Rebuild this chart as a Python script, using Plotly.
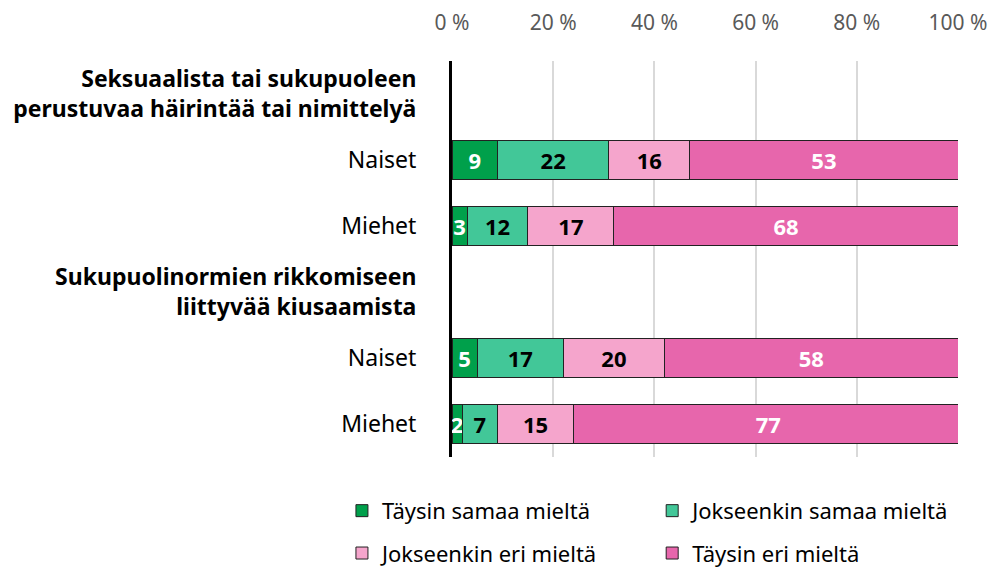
import plotly.graph_objects as go

row_labels = [
    "<b>Seksuaalista tai sukupuoleen<br>perustuvaa häirintää tai nimittelyä</b>",
    "Naiset",
    "Miehet",
    "<b>Sukupuolinormien rikkomiseen<br>liittyvää kiusaamista</b>",
    "Naiset",
    "Miehet",
]
bar_rows = [1, 2, 4, 5]
series_names = ["Täysin samaa mieltä", "Jokseenkin samaa mieltä",
                "Jokseenkin eri mieltä", "Täysin eri mieltä"]
taysin_samaa = [9, 3, 5, 2]
jokseenkin_samaa = [22, 12, 17, 7]
jokseenkin_eri = [16, 17, 20, 15]
taysin_eri = [53, 68, 58, 77]
x_ticks = [0, 20, 40, 60, 80, 100]
x_tick_labels = ["0 %", "20 %", "40 %", "60 %", "80 %", "100 %"]

colors = ["#00A04B", "#42C798", "#F5A5CC", "#E766AC"]
text_colors = ["white", "black", "black", "white"]
values = [taysin_samaa, jokseenkin_samaa, jokseenkin_eri, taysin_eri]
legend_ids = ["legend", "legend2", "legend3", "legend4"]

FONT = "Noto Sans"

fig = go.Figure()
for name, vals, c, tc, lg in zip(series_names, values, colors, text_colors, legend_ids):
    fig.add_trace(go.Bar(
        x=vals, y=bar_rows, orientation="h", name=name,
        marker=dict(color=c, line=dict(color="#222222", width=1)),
        text=[str(v) for v in vals], textposition="inside",
        insidetextanchor="middle", textangle=0,
        textfont=dict(family=FONT, size=22, color=tc, weight="bold"),
        legend=lg, showlegend=True, hoverinfo="skip",
    ))

leg_common = dict(orientation="h", yanchor="middle", xanchor="left",
                  xref="container", yref="container",
                  font=dict(family=FONT, size=22, color="black"),
                  bgcolor="rgba(0,0,0,0)", visible=True)
fig.update_layout(
    showlegend=True,
    barmode="stack", bargap=0.42,
    width=988, height=565,
    margin=dict(l=444, r=38, t=53, b=116, autoexpand=False),
    plot_bgcolor="white", paper_bgcolor="white",
    font=dict(family=FONT, size=21, color="black"),
    uniformtext=dict(mode="show", minsize=22),
    xaxis=dict(
        side="top", range=[0, 100], tickvals=x_ticks, ticktext=x_tick_labels,
        showgrid=True, gridcolor="#D9D9D9", gridwidth=1.5, zeroline=False,
        ticks="outside", ticklen=22, tickcolor="rgba(0,0,0,0)",
        tickfont=dict(family=FONT, size=21, color="#595959"),
        automargin=False,
    ),
    yaxis=dict(
        tickvals=list(range(len(row_labels))), ticktext=row_labels,
        range=[5.5, -0.5], showgrid=False, zeroline=False,
        showline=True, linecolor="black", linewidth=3,
        ticks="outside", ticklen=28, tickcolor="rgba(0,0,0,0)",
        tickfont=dict(family=FONT, size=23, color="black"),
        automargin=False,
    ),
    legend=dict(x=0.338, y=0.110, **leg_common),
    legend2=dict(x=0.652, y=0.110, **leg_common),
    legend3=dict(x=0.338, y=0.035, **leg_common),
    legend4=dict(x=0.652, y=0.035, **leg_common),
)

fig.write_html("out.html")
